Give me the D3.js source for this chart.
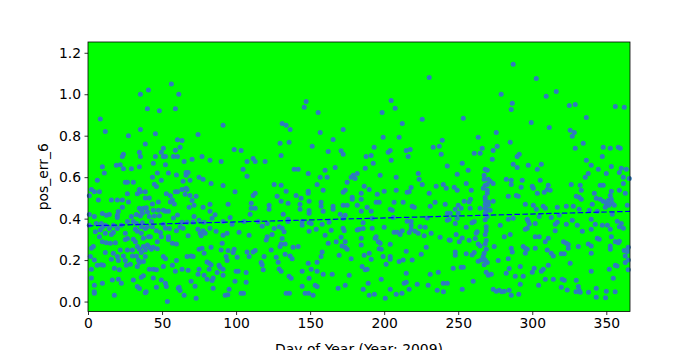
<!DOCTYPE html>
<html>
<head>
<meta charset="utf-8">
<script src="https://cdn.jsdelivr.net/npm/d3@7"></script>
<style>
  html, body { margin: 0; padding: 0; background: #ffffff; }
  svg text { font-family: "DejaVu Sans", sans-serif; }
</style>
</head>
<body>
<svg id="chart" width="700" height="350"></svg>
<script>
// x ticks (day of year) and y ticks (pos_err_6)
const xTicks = [0, 50, 100, 150, 200, 250, 300, 350]
const yTicks = [0.0, 0.2, 0.4, 0.6, 0.8, 1.0, 1.2]

// trend line at both ends
const trendDays = [0, 366]
const trendVals = [0.365, 0.435]

const obsJanFeb = [
  [56.3,1.049],[35.4,1.0],[40.8,1.02],[40.1,0.93],[48.2,0.92],[59,0.93],[61.3,1.0],[8.3,0.88],[11.7,0.82],[35.4,0.83],
  [27.3,0.80],[45.5,0.81],[60.4,0.78],[38.7,0.76],[34.7,0.72],[35.4,0.70],[23.9,0.71],[23.2,0.70],[50.9,0.74],[49.5,0.72],
  [50.9,0.70],[52.3,0.70],[59,0.73],[57.7,0.70],[60.4,0.70],[45.5,0.70],[44.1,0.667],[52.3,0.66],[34.7,0.65],[19.1,0.657],
  [21.8,0.66],[29.3,0.64],[23.9,0.64],[9.7,0.65],[11,0.62],[54.3,0.62],[59.7,0.61],[6.3,0.585],[43.5,0.60],[46.8,0.62],
  [44.8,0.566],[46.2,0.555],[49.5,0.585],[25.2,0.575],[26.6,0.575],[30.6,0.575],[34.7,0.54],[33.3,0.52],[35.4,0.53],[38.7,0.53],
  [38.7,0.50],[41.4,0.50],[43.5,0.47],[47.5,0.48],[52.9,0.52],[55.6,0.51],[59,0.53],[60.4,0.53],[57,0.49],[55.6,0.48],
  [58.3,0.47],[2.3,0.54],[0.9,0.51],[4.3,0.53],[7.7,0.53],[7,0.49],[26.6,0.52],[19.8,0.49],[23.2,0.49],[27.3,0.48],
  [15.8,0.49],[23.2,0.455],[44.1,0.44],[47.5,0.44],[50.9,0.44],[52.3,0.435],[54.3,0.435],[0.9,0.42],[4.3,0.41],[9.7,0.425],
  [12.4,0.416],[14.4,0.42],[20.5,0.434],[19.8,0.416],[19.8,0.406],[29.3,0.41],[32.7,0.42],[34.7,0.45],[36,0.44],[37.4,0.45],
  [39.4,0.453],[36.7,0.426],[35.4,0.413],[40.1,0.432],[41.4,0.41],[44.8,0.413],[48.2,0.414],[57.7,0.403],[60.4,0.418],[26.6,0.386],
  [30.6,0.386],[32.7,0.377],[36.7,0.38],[42.8,0.386],[50.9,0.373],[0.9,0.368],[5.6,0.377],[9,0.377],[11.7,0.368],[17.1,0.368],
  [22.5,0.368],[5,0.337],[8.3,0.345],[9.7,0.358],[14.4,0.352],[19.8,0.352],[25.2,0.329],[32,0.349],[33.3,0.339],[36,0.361],
  [38.7,0.352],[40.1,0.361],[43.5,0.361],[46.2,0.342],[48.9,0.333],[52.3,0.353],[55,0.352],[59.7,0.342],[11.7,0.329],[15.8,0.323],
  [17.1,0.333],[7.7,0.313],[25.2,0.299],[26.6,0.304],[30.6,0.30],[32,0.289],[36,0.329],[37.4,0.305],[40.8,0.313],[42.1,0.313],
  [49.5,0.313],[54.3,0.313],[54.3,0.299],[57,0.281],[59.7,0.278],[9.7,0.289],[12.4,0.284],[15.1,0.281],[18.5,0.284],[21.8,0.249],
  [26.6,0.249],[30,0.249],[33.3,0.265],[34.7,0.252],[36,0.236],[37.4,0.265],[38.7,0.249],[40.1,0.273],[41.4,0.262],[42.8,0.252],
  [44.1,0.262],[46.8,0.255],[46.8,0.288],[2.3,0.257],[3.6,0.265],[1.6,0.217],[4.3,0.2],[6.3,0.175],[9,0.178],[10.4,0.175],
  [11.7,0.236],[15.8,0.204],[17.1,0.233],[19.8,0.217],[20.5,0.198],[23.9,0.22],[25.2,0.198],[30,0.22],[32.7,0.22],[34,0.2],
  [34.7,0.188],[37.4,0.193],[38.7,0.217],[2.3,0.156],[17.8,0.161],[21.2,0.153],[25.9,0.175],[28.6,0.18],[33.3,0.169],[41.4,0.156],
  [44.1,0.156],[46.2,0.153],[50.9,0.217],[52.3,0.207],[50.9,0.169],[57,0.175],[59.7,0.198],[59,0.146],[2.3,0.114],[9.7,0.088],
  [16.4,0.104],[20.5,0.108],[22.5,0.088],[30.6,0.104],[33.3,0.072],[34.7,0.063],[36,0.117],[37.4,0.124],[38.7,0.043],[44.1,0.114],
  [46.2,0.069],[49.5,0.104],[52.3,0.088],[52.9,0.072],[4.3,0.079],[4.3,0.04],[17.8,0.03],[53.6,0.0],[61,0.064],[4.2,0.047],[39.3,0.047]
]

const obsMarApr = [
  [91.2,0.85],[74.3,0.806],[63.5,0.777],[62.2,0.744],[98.7,0.734],[103.4,0.729],[70.3,0.686],[77,0.70],[82.4,0.681],[89.9,0.676],
  [64.9,0.676],[107.4,0.676],[111.5,0.69],[112.9,0.676],[119.6,0.676],[104.7,0.638],[107.4,0.604],[66.2,0.623],[67.6,0.623],[66.2,0.609],
  [68.9,0.585],[64.2,0.58],[75,0.6],[77.7,0.59],[83.1,0.57],[91.2,0.56],[99.3,0.53],[66.2,0.546],[63.5,0.541],[66.9,0.541],
  [65.6,0.517],[68.9,0.512],[73,0.508],[70.3,0.488],[71.6,0.464],[68.3,0.455],[77.7,0.455],[82.4,0.469],[82.4,0.435],[85.8,0.419],
  [83.8,0.402],[94.6,0.469],[110.2,0.474],[110.2,0.45],[112.9,0.45],[112.9,0.522],[111.5,0.512],[109.5,0.421],[122.3,0.464],[122.3,0.445],
  [71.6,0.41],[71,0.382],[63.5,0.382],[66.9,0.382],[75,0.392],[78.4,0.382],[91.2,0.386],[96,0.406],[97.3,0.373],[105.4,0.386],
  [114.9,0.386],[121,0.376],[117.6,0.363],[62.2,0.36],[64.2,0.353],[74.3,0.349],[75.7,0.329],[77.7,0.342],[79.1,0.329],[76.4,0.318],
  [82.4,0.353],[86.5,0.339],[67.6,0.318],[93.9,0.329],[91.2,0.32],[102,0.334],[108.8,0.32],[121,0.313],[120.3,0.297],[90.6,0.281],
  [77,0.257],[75,0.252],[78.4,0.233],[83.1,0.262],[89.9,0.249],[94.6,0.246],[98.7,0.252],[98,0.236],[107.4,0.239],[108.8,0.217],
  [111.5,0.239],[112.9,0.246],[118.9,0.217],[66.9,0.217],[69.6,0.22],[71,0.217],[93.3,0.217],[100.7,0.214],[93.9,0.198],[80.4,0.191],
  [81.8,0.185],[83.1,0.178],[116.9,0.188],[117.6,0.178],[88.5,0.175],[89.2,0.165],[63.5,0.156],[67.6,0.151],[75,0.156],[81.8,0.156],
  [91.2,0.156],[100,0.146],[101.4,0.146],[118.3,0.153],[87.2,0.14],[91.2,0.127],[106.8,0.14],[74.3,0.132],[78.4,0.127],[80.4,0.108],
  [83.8,0.101],[84.5,0.114],[69.6,0.098],[99.3,0.098],[106.8,0.093],[72.3,0.074],[84.5,0.064],[95.3,0.059],[61.5,0.069],[62.2,0.053],
  [64.9,0.03],[103.4,0.04],[92.6,0.03],[73,0.016],[94.4,0.033],[105,0.04]
]

const obsMayJun = [
  [147.3,0.965],[146,0.937],[155.4,0.912],[131.1,0.859],[133.8,0.85],[136.5,0.83],[156.8,0.816],[172.3,0.83],[165.5,0.782],[129.7,0.763],
  [135.8,0.768],[151.4,0.749],[162.2,0.724],[170.9,0.728],[172.3,0.71],[130.4,0.705],[166.9,0.647],[139.2,0.638],[141.9,0.638],[148.7,0.618],
  [160.1,0.633],[156.8,0.599],[161.5,0.599],[181.8,0.618],[179.1,0.609],[177.7,0.599],[180.4,0.594],[175,0.575],[125.7,0.565],[130.4,0.561],
  [154.7,0.565],[158.8,0.537],[148.7,0.532],[148.7,0.522],[172.3,0.527],[173.7,0.537],[133.8,0.532],[127.7,0.508],[140.5,0.512],[143.9,0.498],
  [130.4,0.484],[135.1,0.474],[143.2,0.469],[149.3,0.484],[157.4,0.479],[157.4,0.46],[165.5,0.46],[172.3,0.464],[175,0.464],[178.4,0.503],
  [178.4,0.493],[181.8,0.464],[143.2,0.445],[149.3,0.439],[149.3,0.426],[158.8,0.435],[165.5,0.445],[131.8,0.421],[170.3,0.421],[173.7,0.416],
  [135.1,0.397],[135.1,0.386],[144.6,0.386],[144.6,0.368],[149.3,0.38],[150.7,0.377],[158.1,0.373],[162.8,0.382],[172.3,0.402],[125.7,0.352],
  [129.1,0.361],[131.1,0.353],[132.4,0.337],[124.3,0.324],[154.1,0.349],[149.3,0.339],[164.2,0.344],[160.1,0.32],[172.3,0.353],[173,0.342],
  [181.8,0.345],[131.1,0.304],[170.9,0.31],[130.4,0.278],[129.7,0.265],[133.1,0.278],[138.5,0.262],[141.9,0.265],[162.2,0.281],[167.6,0.289],
  [171.6,0.268],[173.7,0.289],[173.7,0.262],[175,0.252],[123.7,0.249],[133.1,0.228],[136.5,0.22],[137.8,0.207],[158.1,0.239],[157.4,0.217],
  [169.6,0.223],[127.1,0.214],[177.7,0.207],[128.4,0.19],[148.7,0.185],[154.7,0.19],[129.1,0.157],[130.4,0.146],[144.6,0.146],[150.7,0.156],
  [154.7,0.146],[158.8,0.132],[164.9,0.132],[135.8,0.122],[137.2,0.112],[149.3,0.112],[176.4,0.127],[144.6,0.074],[153.4,0.079],[154.7,0.072],
  [168.9,0.064],[173.7,0.079],[133.8,0.04],[146.6,0.04],[152,0.03],[136,0.04],[149,0.04]
]

const obsJulAug = [
  [230.4,1.081],[204.7,0.97],[198.6,0.912],[207.4,0.932],[212.2,0.859],[225.7,0.879],[199.3,0.792],[210.1,0.792],[239.2,0.778],[193.2,0.744],
  [202.7,0.72],[204.1,0.729],[214.9,0.729],[217.6,0.734],[233.1,0.744],[237.2,0.749],[238.5,0.71],[187.8,0.70],[191.2,0.705],[216.2,0.70],
  [204.7,0.681],[192.6,0.667],[187.2,0.643],[242.6,0.654],[197.3,0.609],[208.1,0.599],[223,0.618],[223.6,0.59],[225.7,0.565],[186.5,0.556],
  [189.9,0.541],[184.5,0.522],[184.5,0.493],[195.3,0.517],[200,0.532],[208.1,0.537],[215.5,0.527],[216.9,0.53],[218.2,0.55],[230.4,0.522],
  [235.1,0.556],[239.9,0.565],[241.9,0.546],[194.6,0.479],[196.6,0.479],[206.7,0.479],[212.8,0.479],[234.4,0.479],[241.2,0.469],[188.5,0.455],
  [204.1,0.445],[205.4,0.44],[218.9,0.46],[220.3,0.455],[231.1,0.46],[184.5,0.435],[191.2,0.435],[229.1,0.403],[242.6,0.426],[242.6,0.392],
  [191.9,0.402],[206.1,0.406],[215.5,0.387],[218.2,0.386],[218.2,0.368],[224.3,0.361],[185.8,0.38],[183.1,0.349],[185.8,0.352],[191.9,0.353],
  [200,0.358],[206.7,0.334],[208.8,0.334],[210.8,0.323],[212.2,0.342],[216.9,0.333],[218.2,0.349],[220.9,0.339],[223,0.329],[227,0.318],
  [227.7,0.358],[231.7,0.329],[237.8,0.31],[184.5,0.305],[193.9,0.305],[194.6,0.313],[196,0.289],[197.3,0.281],[204.1,0.276],[184.5,0.273],
  [196.6,0.255],[198,0.252],[228.4,0.262],[243.9,0.297],[186.5,0.223],[189.9,0.233],[191.2,0.204],[199.3,0.217],[204.1,0.217],[204.1,0.204],
  [210.1,0.193],[212.8,0.2],[214.9,0.243],[218.9,0.2],[225,0.228],[201.3,0.18],[185.1,0.169],[187.2,0.153],[188.5,0.156],[214.9,0.137],
  [231.1,0.132],[236.5,0.141],[189.2,0.088],[198,0.108],[213.5,0.088],[214.9,0.093],[222.3,0.084],[229.7,0.079],[239.9,0.088],[242.6,0.088],
  [185.8,0.059],[204.1,0.059],[216.9,0.059],[235.8,0.055],[189.9,0.03],[208.1,0.035],[200.7,0.016],[193.4,0.035],[212,0.04]
]

const obsSepOct = [
  [287.1,1.145],[302.7,1.076],[279,1.0],[286.5,0.956],[285.8,0.927],[253.4,0.884],[299.3,0.864],[275.7,0.816],[263.5,0.792],[285.1,0.768],
  [276.3,0.749],[266.2,0.739],[273.6,0.729],[260.8,0.715],[264.8,0.715],[291.2,0.71],[289.8,0.70],[273,0.686],[252.7,0.667],[287.1,0.662],
  [289.8,0.647],[297.3,0.657],[303.4,0.638],[256.7,0.633],[268.2,0.638],[269.6,0.633],[249.3,0.614],[267.5,0.609],[267.5,0.59],[270.3,0.59],
  [271.6,0.58],[273.6,0.57],[282.4,0.59],[285.8,0.585],[285.8,0.565],[293.2,0.585],[269.6,0.565],[268.2,0.561],[266.9,0.546],[247.3,0.551],
  [249.3,0.537],[255.4,0.57],[258.8,0.537],[269.6,0.537],[269.6,0.522],[268.2,0.503],[292.5,0.551],[300,0.556],[300.7,0.546],[303.4,0.522],
  [289.2,0.512],[290.5,0.508],[283.8,0.508],[258.3,0.493],[257.4,0.48],[254,0.484],[268.2,0.49],[270.3,0.479],[268.2,0.469],[270.3,0.464],
  [273.6,0.484],[250,0.464],[248,0.445],[252,0.45],[258.1,0.45],[264.8,0.45],[268.2,0.45],[269.6,0.44],[271.6,0.44],[295.3,0.469],
  [300.7,0.464],[302.7,0.445],[244.6,0.426],[250,0.426],[268.2,0.426],[243.9,0.397],[249.3,0.402],[248,0.377],[260.8,0.386],[259.4,0.38],
  [268.2,0.394],[269.6,0.41],[283.8,0.397],[287.1,0.402],[296.6,0.397],[297.3,0.387],[298,0.374],[302,0.377],[278.4,0.368],[268.9,0.361],
  [268.9,0.342],[268.2,0.323],[296.6,0.353],[295.3,0.349],[255.4,0.358],[248.6,0.324],[262.8,0.337],[262.1,0.329],[285.1,0.324],[281.1,0.313],
  [302,0.313],[244.6,0.296],[250.7,0.289],[252.7,0.307],[257.4,0.296],[261.5,0.304],[268.9,0.294],[263.5,0.278],[264.8,0.268],[268.2,0.278],
  [268.9,0.252],[274.3,0.265],[285.8,0.257],[286.5,0.239],[293.9,0.265],[295.3,0.257],[296.6,0.252],[295.3,0.233],[302,0.257],[248,0.239],
  [248,0.223],[255.4,0.23],[259.4,0.225],[260.8,0.236],[267.5,0.233],[266.9,0.217],[265.5,0.2],[263.5,0.194],[268.2,0.2],[269.6,0.188],
  [277,0.198],[283.8,0.207],[267.5,0.178],[246.6,0.161],[252,0.166],[253.4,0.166],[284.4,0.159],[291.9,0.169],[301.3,0.161],[282.4,0.137],
  [268.9,0.141],[270.3,0.127],[272.3,0.132],[288.5,0.122],[293.9,0.122],[300,0.141],[260.1,0.098],[291.9,0.084],[304.3,0.079],[252.7,0.059],
  [273.6,0.059],[275.7,0.05],[277.7,0.055],[281.1,0.05],[284.4,0.055],[285.8,0.03],[240,0.047],[279.5,0.047],[290.9,0.035]
]

const obsNovDec = [
  [316.2,1.013],[309.4,0.99],[325,0.946],[329,0.951],[356.1,0.941],[362.1,0.937],[336.5,0.888],[311.5,0.84],[325.6,0.826],[328.4,0.816],
  [327,0.797],[334.4,0.763],[329,0.739],[347.9,0.744],[352.7,0.739],[358.1,0.744],[359.4,0.739],[347.3,0.70],[336.5,0.681],[339.8,0.657],
  [344.6,0.638],[353.4,0.652],[306.1,0.662],[360.1,0.643],[363.5,0.638],[337.8,0.618],[350,0.618],[358.8,0.623],[335.8,0.599],[305.4,0.585],
  [361.5,0.599],[365.5,0.594],[361.5,0.57],[326.3,0.565],[332.4,0.561],[345.9,0.561],[347.9,0.561],[310.8,0.561],[310.1,0.541],[312.1,0.537],
  [308.1,0.527],[333.1,0.537],[358.8,0.537],[362.8,0.522],[341.9,0.522],[353.4,0.532],[329.7,0.508],[331.7,0.503],[333.1,0.493],[343.2,0.498],
  [352.7,0.512],[345.9,0.493],[347.9,0.484],[350,0.474],[351.3,0.488],[353.4,0.493],[354,0.474],[351.8,0.464],[355.4,0.464],[307.4,0.46],
  [308.8,0.45],[316.9,0.455],[323,0.46],[327.7,0.46],[340.5,0.469],[349.3,0.455],[364.2,0.464],[331.7,0.445],[338.5,0.44],[343.9,0.435],
  [304.7,0.41],[312.8,0.406],[318.2,0.416],[354,0.421],[339.8,0.397],[357.4,0.387],[315.5,0.373],[316.9,0.382],[323,0.373],[327,0.392],
  [330.4,0.368],[342.5,0.373],[347.3,0.368],[350.7,0.368],[360.1,0.377],[358.8,0.361],[361.5,0.353],[339.8,0.349],[352.7,0.349],[315.5,0.342],
  [333.8,0.339],[304.7,0.313],[310.8,0.305],[308.8,0.289],[321.1,0.289],[323,0.281],[324.3,0.275],[324.3,0.257],[331.1,0.265],[337.8,0.278],
  [339.8,0.268],[343.9,0.305],[345.2,0.30],[353.4,0.313],[352.7,0.268],[352.7,0.252],[356.1,0.289],[358.1,0.284],[358.8,0.291],[364.8,0.262],
  [310.1,0.249],[312.8,0.233],[314.2,0.22],[319.6,0.23],[321.6,0.23],[339.8,0.233],[362.1,0.246],[364.2,0.241],[362.8,0.22],[362.8,0.188],
  [364.8,0.2],[310.8,0.175],[325.6,0.185],[356.1,0.175],[357.2,0.172],[307.4,0.156],[306.1,0.146],[339.8,0.146],[352,0.156],[364.8,0.153],
  [354.7,0.112],[308.8,0.108],[314.2,0.108],[320.2,0.108],[321.6,0.103],[329.7,0.103],[319.6,0.069],[323.6,0.056],[331.1,0.072],[331.7,0.055],
  [332.4,0.045],[343.2,0.064],[350,0.05],[343.2,0.021],[349.5,0.018],[329.5,0.047],[338,0.045],[356,0.047]
]

const observations = [...obsJanFeb, ...obsMarApr, ...obsMayJun, ...obsJulAug, ...obsSepOct, ...obsNovDec]

const svg = d3.select('#chart')

// plot area (matplotlib-like default axes placement)
const plotLeft = 88, plotRight = 630, plotTop = 42, plotBottom = 311.5
const bgColor = '#00ff00'
const dotColor = '#2f7bbf'
const fontSize = '13.9px'

const xScale = d3.scaleLinear()
  .domain([0, 366])
  .range([plotLeft, plotRight])

const yScale = d3.scaleLinear()
  .domain([-0.048, 1.252])
  .range([plotBottom, plotTop])

// green background of the axes
svg.append('rect')
  .attr('x', plotLeft)
  .attr('y', plotTop)
  .attr('width', plotRight - plotLeft)
  .attr('height', plotBottom - plotTop)
  .attr('fill', bgColor)

// the dots
svg.append('g')
  .selectAll('circle')
  .data(observations)
  .enter()
  .append('circle')
    .attr('cx', d => xScale(d[0]))
    .attr('cy', d => yScale(d[1]))
    .attr('r', 2.5)
    .attr('fill', dotColor)

// dashed trend line
const trendLine = d3.line()
  .x(d => xScale(d[0]))
  .y(d => yScale(d[1]))

svg.append('path')
  .datum(trendDays.map((d, i) => [d, trendVals[i]]))
  .attr('d', trendLine)
  .attr('fill', 'none')
  .attr('stroke', '#0000ff')
  .attr('stroke-width', 1.2)
  .attr('stroke-dasharray', '5.5,2.4')

// axes
const xAxis = d3.axisBottom(xScale)
  .tickValues(xTicks)
  .tickFormat(d3.format('d'))
  .tickSize(3.5)
  .tickPadding(3.5)

const yAxis = d3.axisLeft(yScale)
  .tickValues(yTicks)
  .tickFormat(d3.format('.1f'))
  .tickSize(3.5)
  .tickPadding(3.5)

svg.append('g')
  .attr('transform', `translate(0, ${plotBottom})`)
  .call(xAxis)

svg.append('g')
  .attr('transform', `translate(${plotLeft}, 0)`)
  .call(yAxis)

svg.selectAll('path.domain').remove()
svg.selectAll('.tick line').attr('stroke', '#000').attr('stroke-width', 0.8)
svg.selectAll('.tick text')
  .attr('fill', '#000')
  .style('font-size', fontSize)
  .style('font-family', '"DejaVu Sans", sans-serif')

// frame around the axes
svg.append('rect')
  .attr('x', plotLeft)
  .attr('y', plotTop)
  .attr('width', plotRight - plotLeft)
  .attr('height', plotBottom - plotTop)
  .attr('fill', 'none')
  .attr('stroke', '#000')
  .attr('stroke-width', 0.8)

// axis labels
svg.append('text')
  .attr('text-anchor', 'middle')
  .attr('x', (plotLeft + plotRight) / 2)
  .attr('y', 354)
  .style('font-size', fontSize)
  .text('Day of Year (Year: 2009)')

svg.append('text')
  .attr('text-anchor', 'middle')
  .attr('transform', `translate(48, ${(plotTop + plotBottom) / 2}) rotate(-90)`)
  .style('font-size', fontSize)
  .text('pos_err_6')
</script>
</body>
</html>
